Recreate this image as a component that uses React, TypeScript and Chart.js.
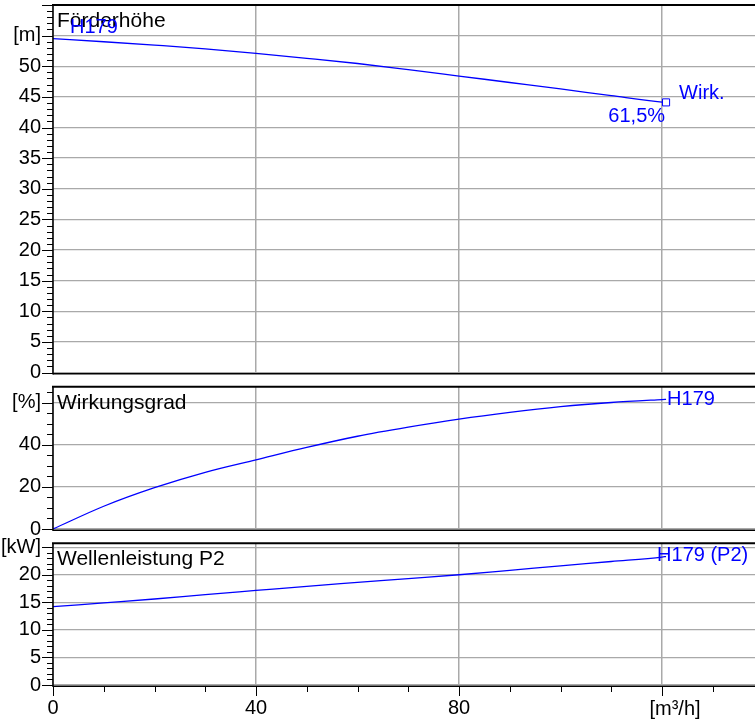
import React, { useEffect, useRef } from 'react';
import { Chart, registerables } from 'chart.js';

Chart.register(...registerables);

// ---- data ----
const FLOW = [0, 10, 20, 30, 40, 50, 60, 70, 80, 90, 100, 110, 120, 120.8];
const HEAD = [54.5, 54.0, 53.45, 52.85, 52.1, 51.3, 50.45, 49.45, 48.4, 47.35, 46.3, 45.2, 44.15, 44.1];
const EFFICIENCY = [0, 10.8, 19.6, 26.9, 32.8, 38.7, 44.0, 48.3, 52.1, 55.3, 58.0, 60.0, 61.4, 61.5];
const POWER = [14.2, 14.9, 15.6, 16.4, 17.15, 17.9, 18.6, 19.3, 20.0, 20.8, 21.6, 22.4, 23.2, 23.3];

const X_TICKS = [0, 10, 20, 30, 40, 50, 60, 70, 80, 90, 100, 110, 120, 130];
const X_MAJOR = [0, 40, 80, 120];
const X_LABELS = ['0', '40', '80', ''];
const X_UNIT = '[m³/h]';

const HEAD_TICKS = Array.from({ length: 61 }, (_, i) => i);
const HEAD_LABELS = ['0', '5', '10', '15', '20', '25', '30', '35', '40', '45', '50', '[m]'];
const EFF_TICKS = [0, 5, 10, 15, 20, 25, 30, 35, 40, 45, 50, 55, 60, 65];
const EFF_LABELS = ['0', '20', '40', '[%]'];
const POWER_TICKS = Array.from({ length: 26 }, (_, i) => i);
const POWER_LABELS = ['0', '5', '10', '15', '20', '[kW]'];

const W = 755;
const H = 722;
const FONT = '"Liberation Sans", Arial, Helvetica, sans-serif';
const BLUE = '#0000ff';
const GRID = '#a9a9a9';

type TextItem = { text: string; x: number; y: number; color: string; align?: CanvasTextAlign; size?: number };

type Panel = {
  top: number;
  bottom: number;
  yMax: number;
  ticks: number[];
  majorStep: number;
  labels: string[];
  values: number[];
  marker: boolean;
  xLabels: boolean;
  texts: (c: any) => TextItem[];
};

function lastPoint(chart: any, values: number[]) {
  const n = FLOW.length - 1;
  return {
    x: chart.scales.x.getPixelForValue(FLOW[n]),
    y: chart.scales.y.getPixelForValue(values[n]),
  };
}

const PANELS: Panel[] = [
  {
    top: 5,
    bottom: 372.5,
    yMax: 60,
    ticks: HEAD_TICKS,
    majorStep: 5,
    labels: HEAD_LABELS,
    values: HEAD,
    marker: true,
    xLabels: false,
    texts: (c) => {
      const a = c.chartArea;
      const p = lastPoint(c, HEAD);
      const y0 = c.scales.y.getPixelForValue(HEAD[0]);
      return [
        { text: 'Förderhöhe', x: a.left + 4, y: a.top + 22, color: '#000', size: 21 },
        { text: 'H179', x: a.left + 17, y: y0 - 5.5, color: BLUE },
        { text: 'Wirk.', x: p.x + 13, y: p.y - 3.5, color: BLUE },
        { text: '61,5%', x: p.x - 1, y: p.y + 20, color: BLUE, align: 'right' },
      ];
    },
  },
  {
    top: 386.7,
    bottom: 529,
    yMax: 67.5,
    ticks: EFF_TICKS,
    majorStep: 20,
    labels: EFF_LABELS,
    values: EFFICIENCY,
    marker: false,
    xLabels: false,
    texts: (c) => {
      const a = c.chartArea;
      const p = lastPoint(c, EFFICIENCY);
      return [
        { text: 'Wirkungsgrad', x: a.left + 4, y: a.top + 22, color: '#000', size: 21 },
        { text: 'H179', x: p.x + 1, y: p.y + 5.5, color: BLUE },
      ];
    },
  },
  {
    top: 543.3,
    bottom: 685,
    yMax: 25.7,
    ticks: POWER_TICKS,
    majorStep: 5,
    labels: POWER_LABELS,
    values: POWER,
    marker: false,
    xLabels: true,
    texts: (c) => {
      const a = c.chartArea;
      const p = lastPoint(c, POWER);
      return [
        { text: 'Wellenleistung P2', x: a.left + 4, y: a.top + 22, color: '#000', size: 21 },
        { text: 'H179 (P2)', x: p.x - 9, y: p.y + 4, color: BLUE },
        { text: X_UNIT, x: c.scales.x.getPixelForValue(120) + 13, y: 715, color: '#000', align: 'center' },
      ];
    },
  },
];

function makeChart(canvas: HTMLCanvasElement, p: Panel) {
  const n = FLOW.length - 1;
  const isMajorY = (v: number) => Math.abs(v / p.majorStep - Math.round(v / p.majorStep)) < 1e-6;
  const decor = {
    id: 'decor',
    afterDraw(chart: any) {
      const { ctx, chartArea: a, scales } = chart;
      const ys = scales.y;
      const xs = scales.x;
      ctx.save();
      ctx.strokeStyle = '#000';
      // top border
      ctx.lineWidth = 2;
      ctx.beginPath();
      ctx.moveTo(a.left - 1, a.top);
      ctx.lineTo(a.right, a.top);
      ctx.stroke();
      // bottom axis line
      ctx.lineWidth = 1.5;
      ctx.beginPath();
      ctx.moveTo(a.left, a.bottom + 1.2);
      ctx.lineTo(a.right, a.bottom + 1.2);
      ctx.stroke();
      // left axis line
      ctx.beginPath();
      ctx.moveTo(a.left, a.top);
      ctx.lineTo(a.left, a.bottom + 2);
      ctx.stroke();
      // y tick marks
      ctx.lineWidth = 1;
      for (const v of p.ticks) {
        const py = Math.round(ys.getPixelForValue(v)) + 0.5;
        const len = isMajorY(v) ? 11 : 6;
        ctx.beginPath();
        ctx.moveTo(a.left - len, py);
        ctx.lineTo(a.left, py);
        ctx.stroke();
      }
      // x tick marks
      if (p.xLabels) {
        for (const v of X_TICKS) {
          const px = Math.round(xs.getPixelForValue(v)) + 0.5;
          const len = X_MAJOR.includes(v) ? 10 : 6;
          ctx.beginPath();
          ctx.moveTo(px, a.bottom + 1);
          ctx.lineTo(px, a.bottom + 1 + len);
          ctx.stroke();
        }
      }
      // texts
      ctx.textBaseline = 'alphabetic';
      for (const t of p.texts(chart)) {
        ctx.font = `${t.size ?? 20}px ${FONT}`;
        ctx.fillStyle = t.color;
        ctx.textAlign = t.align ?? 'left';
        ctx.fillText(t.text, t.x, t.y);
      }
      ctx.restore();
    },
  };

  return new Chart(canvas, {
    type: 'line',
    data: {
      datasets: [
        {
          data: FLOW.map((x, i) => ({ x, y: p.values[i] })),
          borderColor: BLUE,
          borderWidth: 1.3,
          cubicInterpolationMode: 'monotone',
          fill: false,
          pointStyle: 'rect',
          pointRadius: (c: any) => (p.marker && c.dataIndex === n ? 5 : 0),
          pointBackgroundColor: '#ffffff',
          pointBorderColor: BLUE,
          pointBorderWidth: 1,
        },
      ],
    },
    options: {
      responsive: false,
      animation: false,
      events: [],
      layout: { autoPadding: false, padding: { top: p.top, left: 0, right: 0, bottom: 0 } },
      plugins: { legend: { display: false }, tooltip: { enabled: false } },
      scales: {
        x: {
          type: 'linear',
          min: 0,
          max: (W - 53) / 5.075,
          afterBuildTicks: (s: any) => {
            s.ticks = X_TICKS.map((v) => ({ value: v }));
          },
          afterFit: (s: any) => {
            s.height = H - p.bottom;
            s.paddingLeft = 0;
            s.paddingRight = 0;
          },
          grid: {
            drawTicks: false,
            lineWidth: 1.5,
            color: (c: any) => (c.tick && X_MAJOR.includes(c.tick.value) ? GRID : 'rgba(0,0,0,0)'),
          },
          border: { display: false },
          ticks: {
            display: p.xLabels,
            autoSkip: false,
            maxRotation: 0,
            padding: 11,
            color: '#000',
            font: { family: FONT, size: 20 },
            callback: (v: any) => {
              const i = X_MAJOR.indexOf(Number(v));
              return i >= 0 ? X_LABELS[i] : '';
            },
          },
        },
        y: {
          type: 'linear',
          min: 0,
          max: p.yMax,
          afterBuildTicks: (s: any) => {
            s.ticks = p.ticks.map((v) => ({ value: v }));
          },
          afterFit: (s: any) => {
            s.width = 53;
            s.paddingTop = 0;
            s.paddingBottom = 0;
          },
          grid: {
            drawTicks: false,
            lineWidth: 1.3,
            color: (c: any) => (c.tick && isMajorY(c.tick.value) ? GRID : 'rgba(0,0,0,0)'),
          },
          border: { display: false },
          ticks: {
            autoSkip: false,
            padding: 12,
            color: '#000',
            font: { family: FONT, size: 20 },
            callback: (v: any) => {
              const val = Number(v);
              if (!isMajorY(val)) return '';
              const i = Math.round(val / p.majorStep);
              return i < p.labels.length ? p.labels[i] : '';
            },
          },
        },
      },
    },
    plugins: [decor],
  } as any);
}

export default function App() {
  const r0 = useRef<HTMLCanvasElement>(null);
  const r1 = useRef<HTMLCanvasElement>(null);
  const r2 = useRef<HTMLCanvasElement>(null);

  useEffect(() => {
    const refs = [r0, r1, r2];
    const charts = refs.map((r, i) => makeChart(r.current as HTMLCanvasElement, PANELS[i]));
    return () => charts.forEach((c) => c.destroy());
  }, []);

  const cs: React.CSSProperties = { position: 'absolute', left: 0, top: 0, width: W, height: H };
  return (
    <div style={{ position: 'absolute', left: 0, top: 0, width: W, height: H, background: '#fff', overflow: 'hidden' }}>
      <canvas ref={r0} width={W} height={H} style={cs} />
      <canvas ref={r1} width={W} height={H} style={cs} />
      <canvas ref={r2} width={W} height={H} style={cs} />
    </div>
  );
}
